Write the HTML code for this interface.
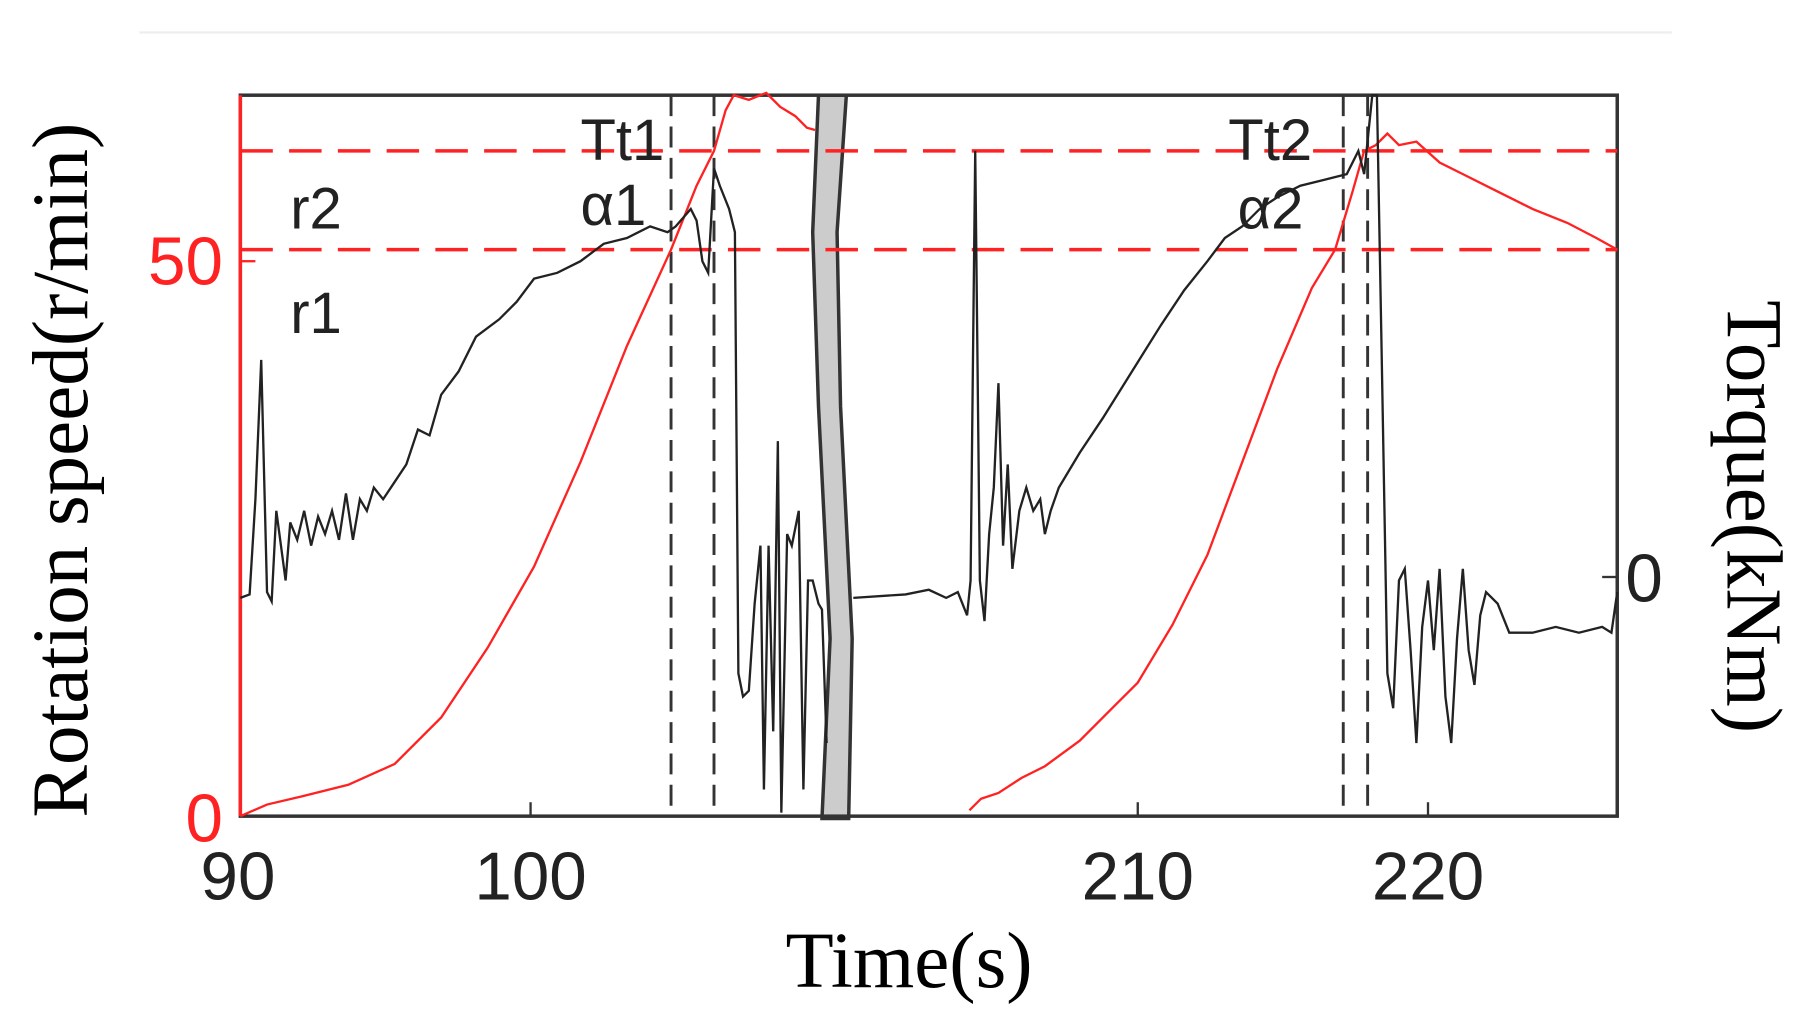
<!DOCTYPE html>
<html><head><meta charset="utf-8"><style>html,body{margin:0;padding:0;background:#fff}svg{display:block}</style></head>
<body>
<svg width="1803" height="1017" viewBox="0 0 1553 876" preserveAspectRatio="none" xmlns="http://www.w3.org/2000/svg">
<line x1="120" y1="28" x2="1440" y2="28" stroke="#eee" stroke-width="2"/>
<polygon points="705,82 700,200 705,350 715,550 708,705 731,705 734,550 724,350 721,200 729,82" fill="#ccc" stroke="#333" stroke-width="3"/>
<rect x="207" y="82" width="1186" height="621" fill="none" stroke="#333" stroke-width="3"/>
<line x1="207" y1="82" x2="207" y2="703" stroke="#f22" stroke-width="3"/>
<line x1="207" y1="225" x2="220" y2="225" stroke="#f22" stroke-width="2"/>
<line x1="457" y1="703" x2="457" y2="691" stroke="#333" stroke-width="2"/>
<line x1="980" y1="703" x2="980" y2="691" stroke="#333" stroke-width="2"/>
<line x1="1230" y1="703" x2="1230" y2="691" stroke="#333" stroke-width="2"/>
<line x1="1380" y1="497" x2="1393" y2="497" stroke="#333" stroke-width="2"/>
<line x1="207" y1="130" x2="1393" y2="130" stroke="#f22" stroke-width="3" stroke-dasharray="28,14"/>
<line x1="207" y1="215" x2="1393" y2="215" stroke="#f22" stroke-width="3" stroke-dasharray="28,14"/>
<g stroke="#333" stroke-width="2.5" stroke-dasharray="18,9">
<line x1="578" y1="82" x2="578" y2="703"/><line x1="615" y1="82" x2="615" y2="703"/>
<line x1="1157" y1="82" x2="1157" y2="703"/><line x1="1178" y1="82" x2="1178" y2="703"/>
</g>
<polyline fill="none" stroke="#f22" stroke-width="2" points="207,703 230,693 260,686 300,676 340,658 380,618 420,558 460,488 500,398 540,298 578,215 600,160 615,130 625,95 632,82 645,86 660,80 672,92 685,100 695,110 702,112"/>
<polyline fill="none" stroke="#f22" stroke-width="2" points="835,698 845,688 860,683 880,670 900,660 930,638 960,608 980,588 1010,538 1040,478 1070,398 1100,318 1130,248 1150,215 1165,165 1175,130 1185,125 1195,115 1205,125 1220,122 1240,140 1260,150 1290,165 1320,180 1350,192 1375,205 1393,215"/>
<polyline fill="none" stroke="#222" stroke-width="2" points="207,515 215,512 220,430 225,310 230,510 234,518 238,440 242,470 246,500 250,450 256,465 262,440 268,470 274,445 280,460 286,440 292,465 298,425 304,465 310,430 316,440 322,420 330,430 340,415 350,400 360,370 370,375 380,340 395,320 410,290 430,275 445,260 460,240 480,235 500,225 520,210 540,205 560,195 575,200 582,195 595,180 600,190 605,225 610,235 615,145 620,160 628,180 633,200 636,580 640,600 645,595 650,520 655,470 658,680 662,470 666,630 670,380 673,700 678,460 682,470 688,440 692,680 696,500 700,500 705,520 708,525 712,640"/>
<polyline fill="none" stroke="#222" stroke-width="2" points="735,515 780,512 800,508 815,515 825,510 833,530 836,500 840,130 844,500 848,535 852,460 856,420 860,330 864,470 868,400 872,490 878,440 884,420 890,440 896,430 900,460 905,440 912,420 930,390 950,360 975,320 1000,280 1020,250 1040,225 1055,205 1070,195 1085,180 1100,170 1120,160 1140,155 1160,150 1170,130 1175,150 1182,82 1186,82 1190,300 1195,580 1200,610 1205,500 1210,490 1215,560 1220,640 1225,540 1230,500 1235,560 1240,490 1245,600 1250,640 1255,550 1260,490 1265,560 1270,590 1275,530 1280,510 1290,520 1300,545 1320,545 1340,540 1360,545 1380,540 1388,545 1393,510"/>
<g font-family="Liberation Sans, sans-serif" font-size="58" fill="#222" text-anchor="middle">
<text x="205" y="775">90</text><text x="457" y="775">100</text><text x="980" y="775">210</text><text x="1230" y="775">220</text>
<text x="1400" y="518" text-anchor="start">0</text>
</g>
<g font-family="Liberation Sans, sans-serif" font-size="58" fill="#f22" text-anchor="end">
<text x="192" y="245">50</text><text x="192" y="725">0</text>
</g>
<g font-family="Liberation Sans, sans-serif" font-size="50" fill="#222">
<text x="250" y="197">r2</text><text x="250" y="287">r1</text>
<text x="500" y="138">Tt1</text><text x="500" y="194">α1</text>
<text x="1058" y="138">Tt2</text><text x="1066" y="197">α2</text>
</g>
<g font-family="Liberation Serif, serif" font-size="68" fill="#000">
<text x="783" y="850" text-anchor="middle">Time(s)</text>
<text transform="translate(75,405) rotate(-90)" text-anchor="middle">Rotation speed(r/min)</text>
<text transform="translate(1488,445) rotate(90)" text-anchor="middle">Torque(kNm)</text>
</g>
</svg>
</body></html>
